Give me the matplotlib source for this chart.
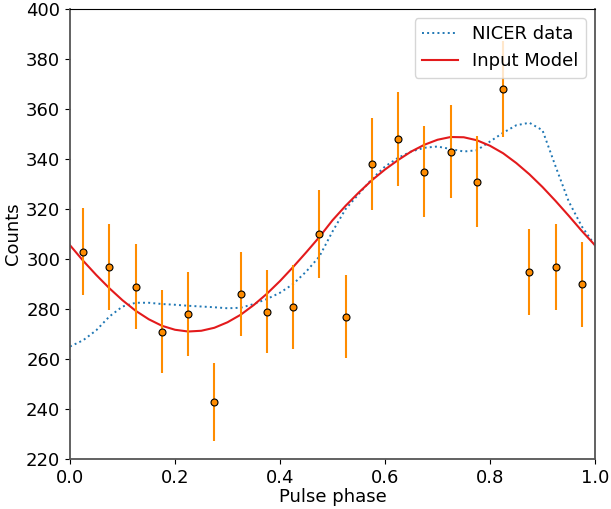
import numpy as np
import matplotlib
matplotlib.use("Agg")
import matplotlib.pyplot as plt

# binned counts (pulse phase bins)
phase = [0.025, 0.075, 0.125, 0.175, 0.225, 0.275, 0.325, 0.375, 0.425, 0.475,
         0.525, 0.575, 0.625, 0.675, 0.725, 0.775, 0.825, 0.875, 0.925, 0.975]
counts = [303, 297, 289, 271, 278, 243, 286, 279, 281, 310,
          277, 338, 348, 335, 343, 331, 368, 295, 297, 290]
count_err = [17.4, 17.2, 17.0, 16.5, 16.7, 15.6, 16.9, 16.7, 16.8, 17.6,
             16.6, 18.4, 18.7, 18.3, 18.5, 18.2, 19.2, 17.2, 17.2, 17.0]

curve_x = [0.0, 0.025, 0.05, 0.075, 0.1, 0.125, 0.15, 0.175, 0.2, 0.225,
           0.25, 0.275, 0.3, 0.325, 0.35, 0.375, 0.4, 0.425, 0.45, 0.475,
           0.5, 0.525, 0.55, 0.575, 0.6, 0.625, 0.65, 0.675, 0.7, 0.725,
           0.75, 0.775, 0.8, 0.825, 0.85, 0.875, 0.9, 0.925, 0.95, 0.975, 1.0]
nicer = [265, 267.5, 271.5, 277, 281, 282.5, 282.5, 282, 281.7, 281.3,
         281, 280.7, 280.3, 280.5, 282, 284, 286.5, 290, 295, 301,
         311, 320, 326, 332, 337, 340.5, 343, 344.5, 345, 344,
         343, 343.5, 347, 350.5, 353.5, 354.5, 351.5, 337, 323, 313, 305.5]
model = [305.5, 299.3, 293.6, 288.3, 283.5, 279.3, 275.9, 273.3, 271.7, 271.0,
         271.3, 272.5, 274.7, 277.7, 281.6, 286.1, 291.2, 296.8, 302.7, 308.8,
         315.5, 321.3, 326.6, 331.5, 335.8, 339.6, 343.0, 345.7, 347.7, 348.8,
         348.7, 347.5, 345.3, 342.3, 338.4, 333.9, 328.8, 323.2, 317.3, 311.2, 305.5]

fig = plt.figure(figsize=(6.11, 5.09), dpi=100)
ax = fig.add_axes([0.1146, 0.0982, 0.8592, 0.8841])

ax.plot(curve_x, nicer, ls=":", color="#1f77b4", lw=1.4, label="NICER data")
ax.plot(curve_x, model, ls="-", color="#e31a1c", lw=1.5, label="Input Model")
ax.errorbar(phase, counts, yerr=count_err, fmt="o", color="darkorange",
            ecolor="darkorange", elinewidth=1.5, ms=5, mec="black", mew=0.8)

ax.set_xlim(0, 1)
ax.set_ylim(220, 400)
ax.set_yticks(np.arange(220, 401, 20))
ax.set_xticks([0.0, 0.2, 0.4, 0.6, 0.8, 1.0])
ax.tick_params(labelsize=13)
ax.set_xlabel("Pulse phase", fontsize=13, labelpad=1)
ax.set_ylabel("Counts", fontsize=13, labelpad=3)
for s in ["left", "bottom", "right"]:
    ax.spines[s].set_color("#555555")
    ax.spines[s].set_linewidth(1.3)

ax.legend(loc="upper right", fontsize=13, handlelength=2.0, borderaxespad=0.5)

plt.savefig("out.png", dpi=100)
